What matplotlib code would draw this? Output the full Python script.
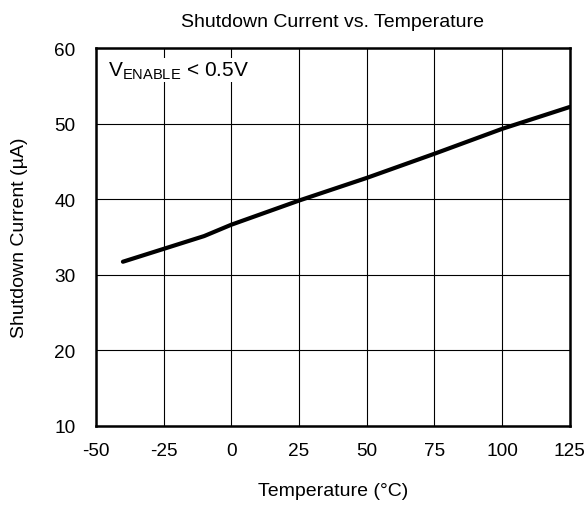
import matplotlib.pyplot as plt

plt.rcParams['font.family'] = ['Liberation Sans', 'DejaVu Sans']

# Shutdown current readings vs temperature
temperature = [-40, -25, -10, 0, 25, 50, 75, 100, 125]
shutdown_current = [31.7, 33.4, 35.1, 36.6, 39.8, 42.8, 46.0, 49.3, 52.2]

x_ticks = [-50, -25, 0, 25, 50, 75, 100, 125]
y_ticks = [10, 20, 30, 40, 50, 60]

fig = plt.figure(figsize=(5.88, 5.06), dpi=100)
ax = fig.add_axes([0.163, 0.157, 0.806, 0.746])

ax.plot(temperature, shutdown_current, color='black', linewidth=3, solid_capstyle='round')

ax.set_xlim(-50, 125)
ax.set_ylim(10, 60)
ax.set_xticks(x_ticks)
ax.set_yticks(y_ticks)
ax.set_xticklabels([str(t) for t in x_ticks])
ax.grid(True, color='black', linewidth=0.8)
ax.tick_params(length=0, labelsize=13.7)
ax.tick_params(axis='x', pad=12)
ax.tick_params(axis='y', pad=14.5)
for spine in ax.spines.values():
    spine.set_linewidth(1.8)

ax.text(-45.5, 57.1, r'$\mathregular{V_{ENABLE}}$ < 0.5V', fontsize=15, va='center', ha='left',
        bbox=dict(facecolor='white', edgecolor='none', pad=1))

ax.set_title('Shutdown Current vs. Temperature', fontsize=14, pad=16)
ax.set_xlabel('Temperature (°C)', fontsize=14)
ax.set_ylabel('Shutdown Current (µA)', fontsize=14)
ax.xaxis.label.set_va('center')
ax.yaxis.label.set_va('center')
ax.xaxis.set_label_coords(0.5, -0.172)
ax.yaxis.set_label_coords(-0.162, 0.5)

fig.savefig('out.png', dpi=100)
